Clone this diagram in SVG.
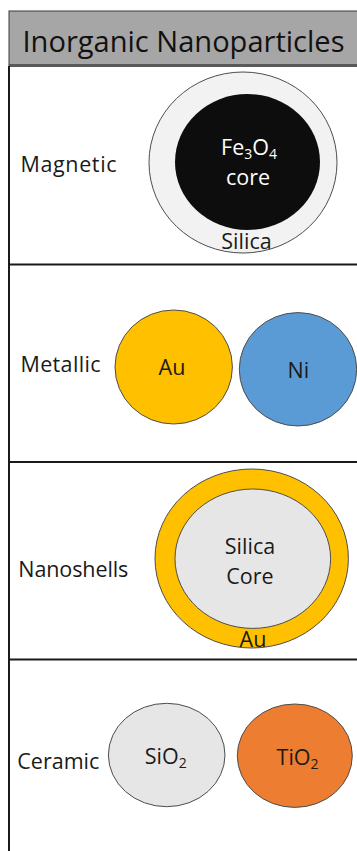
<svg xmlns="http://www.w3.org/2000/svg" width="357" height="851" viewBox="0 0 357 851">
<style>
.lbl{font-family:"Open Sans","Liberation Sans",sans-serif;font-size:21.5px;fill:#1a1a1a}
.in{font-family:"Open Sans","Liberation Sans",sans-serif;font-size:21.5px;fill:#1a1a1a;text-anchor:middle}
.sub{font-size:14px}
.rule{stroke:#1a1a1a;stroke-width:2;fill:none}
.p{stroke:#4d4d4d;stroke-width:1}
</style>
<rect width="357" height="851" fill="#ffffff"/>
<g id="header">
<rect x="9" y="11" width="350" height="55" fill="#a6a6a6" stroke="#3a3a3a" stroke-width="1"/>
<line x1="9" y1="65.5" x2="357" y2="65.5" stroke="#595959" stroke-width="3"/>
<text x="22.5" y="51.5" font-family="'Open Sans','Liberation Sans',sans-serif" font-size="29" fill="#111" textLength="322" lengthAdjust="spacingAndGlyphs">Inorganic Nanoparticles</text>
</g>
<g id="grid">
<line class="rule" x1="9" y1="66" x2="9" y2="851"/>
<line class="rule" x1="9" y1="264.5" x2="357" y2="264.5"/>
<line class="rule" x1="9" y1="462" x2="357" y2="462"/>
<line class="rule" x1="9" y1="659.5" x2="357" y2="659.5"/>
</g>
<g id="magnetic">
<text class="lbl" x="20.5" y="171.5" textLength="96">Magnetic</text>
<ellipse class="p" cx="243" cy="162.5" rx="94" ry="90.5" fill="#f2f2f2"/>
<ellipse cx="247.5" cy="162" rx="72.5" ry="68" fill="#0d0d0d"/>
<text class="in" x="249" y="155" style="fill:#ffffff">Fe<tspan class="sub" dy="4">3</tspan><tspan dy="-4">O</tspan><tspan class="sub" dy="4">4</tspan></text>
<text class="in" x="248" y="185" style="fill:#ffffff">core</text>
<text class="in" x="246.5" y="248.5">Silica</text>
</g>
<g id="metallic">
<text class="lbl" x="20.5" y="371.5" textLength="80">Metallic</text>
<ellipse class="p" cx="173.7" cy="367" rx="58.7" ry="57" fill="#ffc000"/>
<text class="in" x="172" y="375">Au</text>
<ellipse class="p" cx="298" cy="369.3" rx="58.7" ry="56.7" fill="#5b9bd5"/>
<text class="in" x="298.3" y="377.5">Ni</text>
</g>
<g id="nanoshells">
<text class="lbl" x="18.3" y="576.5" textLength="110">Nanoshells</text>
<ellipse class="p" cx="251.7" cy="558.5" rx="96.7" ry="89.5" fill="#ffc000"/>
<ellipse class="p" cx="252.8" cy="558.7" rx="77.8" ry="69.7" fill="#e6e6e6"/>
<text class="in" x="250" y="554">Silica</text>
<text class="in" x="250" y="584">Core</text>
<text class="in" x="253" y="646.5">Au</text>
</g>
<g id="ceramic">
<text class="lbl" x="17.3" y="769" textLength="82">Ceramic</text>
<ellipse class="p" cx="166.7" cy="755" rx="58.3" ry="51.7" fill="#e6e6e6"/>
<text class="in" x="165.7" y="764">SiO<tspan class="sub" dy="4">2</tspan></text>
<ellipse class="p" cx="294.8" cy="755.7" rx="57.5" ry="51.7" fill="#ed7d31"/>
<text class="in" x="297.6" y="764.5">TiO<tspan class="sub" dy="4">2</tspan></text>
</g>
</svg>
